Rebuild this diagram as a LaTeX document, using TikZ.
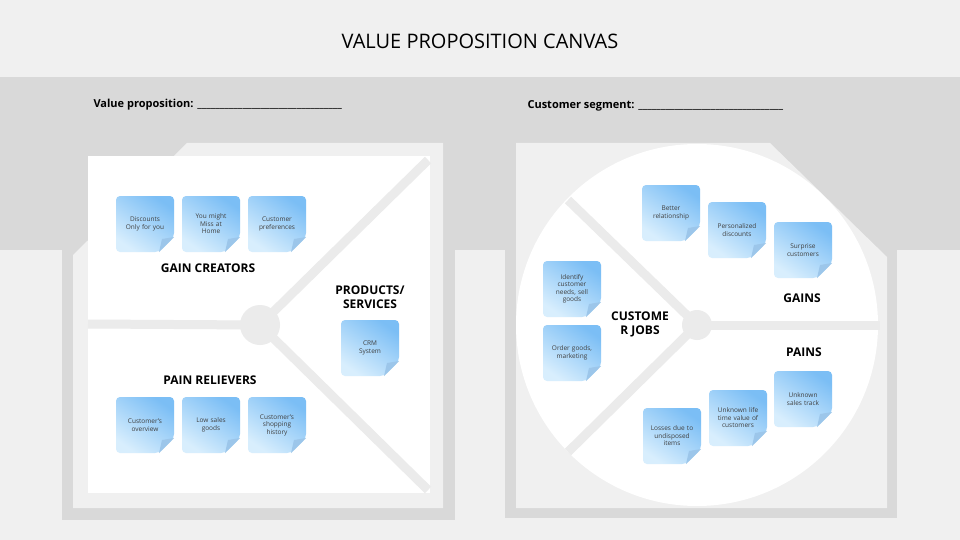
\documentclass[tikz,border=0pt]{standalone}
\usepackage{fontspec}
\setmainfont{Open Sans}
\definecolor{bgl}{HTML}{F0F0F0}
\definecolor{bgd}{HTML}{D9D9D9}
\definecolor{noteA}{HTML}{7BBEF5}
\definecolor{noteB}{HTML}{D8EEFD}
\definecolor{foldc}{HTML}{9CC6EA}
\newcommand{\stickynote}[4]{%
  \shade[shift={(#2)}, rounded corners=4pt, top color=noteA, bottom color=noteB, shading angle=-35]
      (-29,-28) -- (29,-28) -- (29,13) -- (14,28) -- (-29,28) -- cycle;
  \fill[shift={(#2)}, foldc] (29,13) -- (14,28) -- (17,15) -- cycle;
  \node[notetext] (#1) at (#2) {#3};}
\begin{document}
\begin{tikzpicture}[x=1pt,y=-1pt,
  lbl/.style={font=\bfseries\fontsize{12}{14}\selectfont, align=center, text=black},
  notetext/.style={font=\fontsize{6.5}{7.5}\selectfont, text=black!75, align=center, text width=50pt, inner sep=0pt},
  divider/.style={draw=black!8, line width=9pt}]
\useasboundingbox (0,0) rectangle (960,540);
\fill[bgl] (0,0) rectangle (960,540);
\fill[bgd] (0,77) rectangle (960,250);
\fill[bgd] (62,250) rectangle (455,520);
\fill[bgl] (73,255) -- (187,143) -- (443,143) -- (443,508) -- (73,508) -- cycle;
\fill[white] (88,156) rectangle (430,493);
\coordinate (lc) at (260,325);
\draw[divider] (88,324) -- (lc);
\draw[divider] (lc) -- (428,160);
\draw[divider] (lc) -- (428,490);
\fill[black!8] (lc) circle (20);
\fill[bgd] (505,250) rectangle (897,518);
\fill[bgl] (516,143) -- (770,143) -- (887,257) -- (887,508) -- (516,508) -- cycle;
\coordinate (rc) at (697,325);
\fill[white] (rc) circle (181);
\draw[divider] (rc) -- (880,325);
\draw[divider] (rc) -- (568,200);
\draw[divider] (rc) -- (568,452);
\fill[black!8] (rc) circle (15);
\node[font=\fontsize{20}{24}\selectfont] (title) at (480,41) {VALUE PROPOSITION CANVAS};
\node[anchor=west, font=\bfseries\fontsize{11}{13}\selectfont] (vp) at (90,105) {Value proposition: \_\_\_\_\_\_\_\_\_\_\_\_\_\_\_\_\_\_\_\_\_\_\_\_\_\_\_\_\_\_\_\_};
\node[anchor=west, font=\bfseries\fontsize{11}{13}\selectfont] (cs) at (524,106) {Customer segment: \_\_\_\_\_\_\_\_\_\_\_\_\_\_\_\_\_\_\_\_\_\_\_\_\_\_\_\_\_\_\_\_};
\node[lbl] (gc) at (208,268) {GAIN CREATORS};
\node[lbl] (ps) at (370,297) {PRODUCTS/\\SERVICES};
\node[lbl] (pr) at (210,380) {PAIN RELIEVERS};
\node[lbl] (gains) at (802,298) {GAINS};
\node[lbl] (cj) at (640,324) {CUSTOME\\R JOBS};
\node[lbl] (pains) at (804,352) {PAINS};
\stickynote{n1}{145,224}{Discounts\\Only for you}{}
\stickynote{n2}{211,224}{You might\\Miss at\\Home}{}
\stickynote{n3}{277,224}{Customer\\preferences}{}
\stickynote{n4}{145,425}{Customer's\\overview}{}
\stickynote{n5}{211,425}{Low sales\\goods}{}
\stickynote{n6}{277,425}{Customer's\\shopping\\history}{}
\stickynote{n7}{370,348}{CRM\\System}{}
\stickynote{n8}{671,213}{Better\\relationship}{}
\stickynote{n9}{737,230}{Personalized\\discounts}{}
\stickynote{n10}{803,250}{Surprise\\customers}{}
\stickynote{n11}{572,289}{Identify\\customer\\needs, sell\\goods}{}
\stickynote{n12}{572,353}{Order goods,\\marketing}{}
\stickynote{n13}{672,436}{Losses due to\\undisposed\\items}{}
\stickynote{n14}{738,418}{Unknown life\\time value of\\customers}{}
\stickynote{n15}{803,399}{Unknown\\sales track}{}
\end{tikzpicture}
\end{document}
